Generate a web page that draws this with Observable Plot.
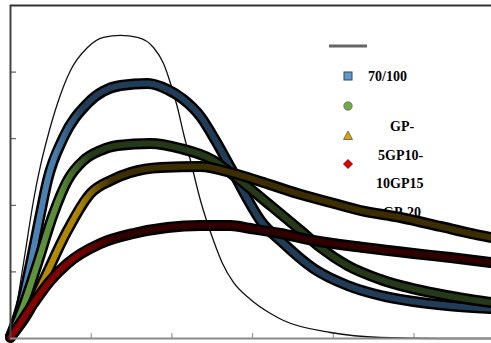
<!DOCTYPE html>
<html>
<head>
<meta charset="utf-8">
<script src="https://cdn.jsdelivr.net/npm/d3@7"></script>
<script src="https://cdn.jsdelivr.net/npm/@observablehq/plot@0.6"></script>
<style>
  html, body { margin: 0; padding: 0; background: #fff; }
  #wrap { position: relative; width: 491px; height: 343px; overflow: hidden; }
  #legend { position: absolute; left: 0; top: 0; width: 491px; height: 343px; z-index: 0; }
  #chart { position: absolute; left: 0; top: 0; z-index: 1; }
  #chart svg { background: transparent !important; }
  .lbl { position: absolute; font-family: "Liberation Serif", "Times New Roman", serif; font-size: 14px; font-weight: bold; color: #000; line-height: 14px; white-space: nowrap; }
</style>
</head>
<body>
<div id="wrap">
  <div id="legend"></div>
  <div id="chart"></div>
</div>
<script>
// ---- data (x and y in tick units) ----
const seriesNames = ["", "70/100", "GP-", "5GP10-", "10GP15", "GP-20"];
const xTicks = [0, 1, 2, 3, 4, 5];
const yTicks = [0, 1, 2, 3, 4];

const refCurve = [[0,0],[0.087,0.571],[0.186,1.321],[0.285,2.072],[0.372,2.598],[0.458,3.018],[0.582,3.529],[0.743,4.024],[0.954,4.369],[1.152,4.520],[1.363,4.550],[1.574,4.520],[1.772,4.369],[1.896,4.129],[1.983,3.829],[2.069,3.468],[2.144,3.078],[2.230,2.673],[2.354,2.072],[2.515,1.471],[2.627,1.126],[2.763,0.841],[2.974,0.586],[3.222,0.375],[3.383,0.270],[3.965,0.090],[4.585,0.015],[5.328,0],[5.96,0]];

const blueSeries = [[0,0.03],[0.124,0.465],[0.248,1.126],[0.372,1.877],[0.458,2.372],[0.657,3.018],[0.954,3.529],[1.363,3.799],[1.698,3.829],[1.945,3.739],[2.144,3.588],[2.354,3.333],[2.540,2.973],[2.726,2.568],[2.912,2.147],[3.098,1.772],[3.371,1.441],[3.755,1.051],[4.176,0.796],[4.585,0.646],[4.994,0.556],[5.415,0.495],[5.948,0.450]];

const greenSeries = [[0,0.03],[0.124,0.375],[0.335,1.126],[0.533,1.877],[0.706,2.372],[0.905,2.673],[1.115,2.823],[1.326,2.898],[1.735,2.928],[2.107,2.853],[2.515,2.673],[2.813,2.402],[3.222,1.997],[3.594,1.622],[3.841,1.366],[4.176,1.096],[4.585,0.886],[5.204,0.691],[5.613,0.601],[5.948,0.541]];

const yellowSeries = [[0,0.03],[0.211,0.375],[0.409,0.871],[0.706,1.622],[0.991,2.177],[1.239,2.372],[1.487,2.492],[1.859,2.568],[2.354,2.583],[2.726,2.492],[3.135,2.342],[3.556,2.177],[3.965,2.042],[4.337,1.922],[4.833,1.817],[5.328,1.682],[5.700,1.577],[5.948,1.517]];

const redSeries = [[0,0.015],[0.087,0.165],[0.285,0.526],[0.496,0.871],[0.706,1.126],[1.115,1.426],[1.524,1.577],[1.945,1.667],[2.354,1.697],[2.726,1.697],[2.974,1.652],[3.346,1.577],[3.755,1.471],[4.374,1.366],[4.994,1.276],[5.452,1.216],[5.948,1.141]];

const colors = {blue: "#5b9bd5", green: "#70ad47", yellow: "#d6a400", red: "#c00000"};

// ---- chart ----
function band(data, id) {
  return [
    Plot.line(data, {x: d => d[0], y: d => d[1], curve: "monotone-x", stroke: "#000", strokeWidth: 11, strokeLinecap: "round"}),
    Plot.line(data, {x: d => d[0], y: d => d[1], curve: "monotone-x", stroke: `url(#${id})`, strokeWidth: 6, strokeDasharray: "3.5 1.3"})
  ];
}

const chart = Plot.plot({
  width: 491,
  height: 343,
  marginLeft: 10,
  marginRight: 0,
  marginTop: 5,
  marginBottom: 5,
  style: {background: "transparent", overflow: "visible"},
  x: {domain: [0, 5.96]},
  y: {domain: [0, 5]},
  marks: [
    Plot.axisX({ticks: xTicks, tickSize: -5, tickFormat: () => "", stroke: "#888", label: null}),
    Plot.axisY({ticks: yTicks, tickSize: -6, tickFormat: () => "", stroke: "#444", label: null}),
    Plot.line(refCurve, {x: d => d[0], y: d => d[1], curve: "monotone-x", stroke: "#111", strokeWidth: 1.3}),
    ...band(blueSeries, "g-blue"),
    ...band(greenSeries, "g-green"),
    ...band(yellowSeries, "g-yellow"),
    ...band(redSeries, "g-red"),
    Plot.ruleY([0], {stroke: "#8a8a8a", strokeWidth: 2}),
    Plot.ruleX([0], {stroke: "#444", strokeWidth: 2}),
    Plot.ruleY([5], {stroke: "#333", strokeWidth: 2})
  ]
});

// gradients: bright markers on the steep rise, darker where markers pile up
const sx = chart.scale("x");
const grads = [
  {id: "g-blue", light: colors.blue, dark: "#4a86c0", darkOp: 0.45, a: 0.55, b: 0.9},
  {id: "g-green", light: colors.green, dark: colors.green, darkOp: 0.33, a: 0.6, b: 1.0},
  {id: "g-yellow", light: colors.yellow, dark: colors.yellow, darkOp: 0.28, a: 0.85, b: 1.25},
  {id: "g-red", light: "#9a0000", dark: colors.red, darkOp: 0.25, a: 0.8, b: 1.3}
];
const defs = d3.select(chart).insert("defs", ":first-child");
grads.forEach(g => {
  const lg = defs.append("linearGradient").attr("id", g.id).attr("gradientUnits", "userSpaceOnUse")
    .attr("x1", sx.apply(0)).attr("x2", sx.apply(5.96)).attr("y1", 0).attr("y2", 0);
  const x0 = sx.apply(0), x1 = sx.apply(5.96);
  const off = v => (sx.apply(v) - x0) / (x1 - x0);
  lg.append("stop").attr("offset", 0).attr("stop-color", g.light).attr("stop-opacity", 0.9);
  lg.append("stop").attr("offset", off(g.a)).attr("stop-color", g.light).attr("stop-opacity", 0.8);
  lg.append("stop").attr("offset", off(g.b)).attr("stop-color", g.dark).attr("stop-opacity", g.darkOp);
  lg.append("stop").attr("offset", 1).attr("stop-color", g.dark).attr("stop-opacity", g.darkOp);
});
document.getElementById("chart").appendChild(chart);

// ---- legend (behind the curves, as in the reference) ----
const legend = document.getElementById("legend");
legend.innerHTML = `
<svg width="491" height="343" style="position:absolute;left:0;top:0">
  <line x1="329" y1="46" x2="367" y2="46" stroke="#666" stroke-width="3"/>
  <rect x="344" y="72" width="8" height="8" fill="${colors.blue}" stroke="#444" stroke-width="1"/>
  <circle cx="348" cy="106" r="4.2" fill="${colors.green}" stroke="#666" stroke-width="0.8"/>
  <path d="M348,131 L352.5,139.5 L343.5,139.5 Z" fill="${colors.yellow}" stroke="#555" stroke-width="0.8"/>
  <path d="M348,159.5 L352.5,164 L348,168.5 L343.5,164 Z" fill="#e00000" stroke="#600" stroke-width="0.8"/>
</svg>`;
const labelPos = [[368, 70], [390, 120], [378, 149], [376, 177], [383, 206]];
seriesNames.slice(1).forEach((name, i) => {
  const d = document.createElement("div");
  d.className = "lbl";
  d.textContent = name;
  d.style.left = labelPos[i][0] + "px";
  d.style.top = labelPos[i][1] + "px";
  legend.appendChild(d);
});
</script>
</body>
</html>
